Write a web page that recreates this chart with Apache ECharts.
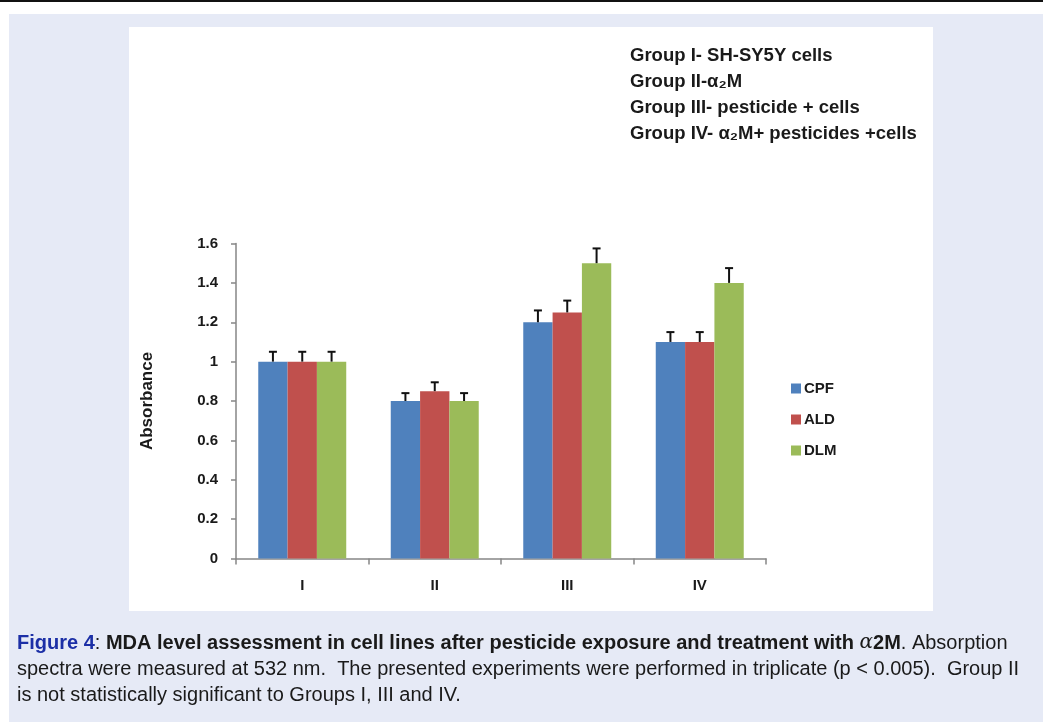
<!DOCTYPE html>
<html>
<head>
<meta charset="utf-8">
<style>
html,body{margin:0;padding:0;background:#ffffff;}
#chart{width:1043px;height:722px;}
</style>
<script src="https://cdn.jsdelivr.net/npm/echarts@6/dist/echarts.min.js"></script>
</head>
<body>
<div id="chart"></div>
<script>
// ---- data ----
var categories = ['I', 'II', 'III', 'IV'];
var seriesNames = ['CPF', 'ALD', 'DLM'];
var cpfValues = [1.0, 0.80, 1.20, 1.10];
var aldValues = [1.0, 0.85, 1.25, 1.10];
var dlmValues = [1.0, 0.80, 1.50, 1.40];
var cpfErrors = [0.05, 0.04, 0.06, 0.05];
var aldErrors = [0.05, 0.045, 0.06, 0.05];
var dlmErrors = [0.05, 0.04, 0.075, 0.075];
var groupNotes = [
  'Group I- SH-SY5Y cells',
  'Group II-\u03b1\u2082M',
  'Group III- pesticide + cells',
  'Group IV- \u03b1\u2082M+ pesticides +cells'
];

var colors = ['#4f81bd', '#c0504d', '#9bbb59'];
var allValues = [cpfValues, aldValues, dlmValues];
var allErrors = [cpfErrors, aldErrors, dlmErrors];
var CAT_GAP = 0.336;

var errData = [];
for (var s = 0; s < 3; s++) {
  for (var c = 0; c < categories.length; c++) {
    errData.push([c, allValues[s][c], allErrors[s][c], s]);
  }
}

var chart = echarts.init(document.getElementById('chart'), null, {renderer: 'canvas'});
var FONT = "'Liberation Sans Narrow', 'Liberation Sans', Arial, sans-serif";

var barSeries = seriesNames.map(function (name, i) {
  return {
    name: name,
    type: 'bar',
    data: allValues[i],
    barGap: '0%',
    barCategoryGap: (CAT_GAP * 100) + '%',
    itemStyle: {color: colors[i]},
    emphasis: {disabled: true},
    z: 2
  };
});

var errorSeries = {
  type: 'custom',
  name: 'err',
  data: errData,
  z: 5,
  silent: true,
  renderItem: function (params, api) {
    var cat = api.value(0), val = api.value(1), err = api.value(2), si = api.value(3);
    var catW = api.size([1, 0])[0];
    var bw = catW * (1 - CAT_GAP) / 3;
    var base = api.coord([cat, val]);
    var top = api.coord([cat, val + err]);
    var x = base[0] + (si - 1) * bw;
    var cap = 4;
    return {
      type: 'group',
      children: [
        {type: 'line', shape: {x1: x, y1: base[1], x2: x, y2: top[1]}, style: {stroke: '#111', lineWidth: 2}},
        {type: 'line', shape: {x1: x - cap, y1: top[1], x2: x + cap, y2: top[1]}, style: {stroke: '#111', lineWidth: 2}}
      ]
    };
  }
};

var noteTexts = groupNotes.map(function (t, i) {
  return {
    type: 'text', x: 630, y: 56 + i * 26, z: 10,
    style: {text: t, font: "bold 18.5px " + FONT, fill: '#1a1a1a', verticalAlign: 'middle'}
  };
});

var CAP_SIZE = 20;
var option = {
  animation: false,
  textStyle: {fontFamily: FONT},
  grid: {left: 236, right: 277, top: 243.5, bottom: 163.5, containLabel: false},
  legend: {
    data: seriesNames,
    orient: 'vertical',
    left: 786, top: 376,
    itemWidth: 10, itemHeight: 10, itemGap: 16,
    icon: 'rect',
    textStyle: {fontFamily: FONT, fontWeight: 'bold', fontSize: 15, color: '#1a1a1a', padding: [0, 0, 0, -2]}
  },
  xAxis: {
    type: 'category',
    data: categories,
    axisLine: {lineStyle: {color: '#868686', width: 1.5}},
    axisTick: {show: true, length: 6, lineStyle: {color: '#868686', width: 1.5}},
    axisLabel: {fontFamily: FONT, fontWeight: 'bold', fontSize: 15, color: '#1a1a1a', margin: 20},
    splitLine: {show: false}
  },
  yAxis: {
    type: 'value',
    min: 0, max: 1.6, interval: 0.2,
    name: 'Absorbance',
    nameLocation: 'middle',
    nameGap: 80,
    nameRotate: 90,
    nameTextStyle: {fontFamily: FONT, fontWeight: 'bold', fontSize: 17, color: '#1a1a1a'},
    axisLine: {show: true, lineStyle: {color: '#868686', width: 1.5}},
    axisTick: {show: true, length: 5, lineStyle: {color: '#868686', width: 1.5}},
    axisLabel: {fontFamily: FONT, fontWeight: 'bold', fontSize: 15, color: '#1a1a1a', margin: 18},
    splitLine: {show: false}
  },
  graphic: [
    {type: 'rect', shape: {x: 0, y: 0, width: 1043, height: 2}, style: {fill: '#111'}, z: -10},
    {type: 'rect', shape: {x: 9, y: 14, width: 1034, height: 708}, style: {fill: '#e6eaf6'}, z: -10},
    {type: 'rect', shape: {x: 129, y: 27, width: 804, height: 584}, style: {fill: '#ffffff'}, z: -9},
    {
      type: 'text', x: 17, y: 643, z: 10,
      style: {
        verticalAlign: 'middle',
        text: '{blue|Figure 4}{n|: }{b|MDA level assessment in cell lines after pesticide exposure and treatment with }{i|\u03b1}{b|2M}{n|. Absorption}',
        rich: {
          blue: {fontFamily: FONT, fontWeight: 'bold', fontSize: CAP_SIZE, fill: '#1c2fa6'},
          n: {fontFamily: FONT, fontSize: CAP_SIZE, fill: '#1a1a1a'},
          b: {fontFamily: FONT, fontWeight: 'bold', fontSize: CAP_SIZE, fill: '#1a1a1a'},
          i: {fontFamily: "'DejaVu Serif', serif", fontStyle: 'italic', fontSize: CAP_SIZE, fill: '#1a1a1a'}
        }
      }
    },
    {
      type: 'text', x: 17, y: 669, z: 10,
      style: {verticalAlign: 'middle', text: 'spectra were measured at 532 nm.  The presented experiments were performed in triplicate (p < 0.005).  Group II', font: CAP_SIZE + "px " + FONT, fill: '#1a1a1a'}
    },
    {
      type: 'text', x: 17, y: 695, z: 10,
      style: {verticalAlign: 'middle', text: 'is not statistically significant to Groups I, III and IV.', font: CAP_SIZE + "px " + FONT, fill: '#1a1a1a'}
    }
  ].concat(noteTexts),
  series: barSeries.concat([errorSeries])
};

chart.setOption(option);
</script>
</body>
</html>
